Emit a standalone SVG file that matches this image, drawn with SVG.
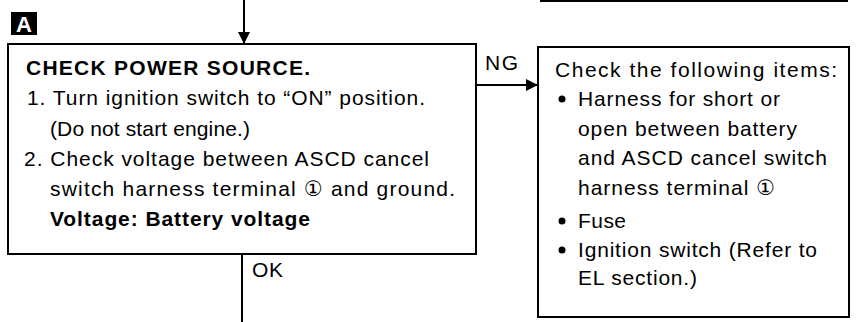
<svg xmlns="http://www.w3.org/2000/svg" width="859" height="322" viewBox="0 0 859 322">
<style>
.box{fill:#fff;stroke:#000;stroke-width:2}
.ln{fill:none;stroke:#000;stroke-width:2}
.t{font-family:"Liberation Sans",Arial,"DejaVu Sans",sans-serif;font-size:21px;fill:#000}
.b{font-weight:bold}
.bul{fill:#000}
</style>
<defs>
<marker id="ah" viewBox="0 0 12 12" refX="12" refY="6" markerWidth="12" markerHeight="12" markerUnits="userSpaceOnUse" orient="auto">
<path d="M0,0 L12,6 L0,12 Z" fill="#000"/>
</marker>
</defs>
<rect width="859" height="322" fill="#fff"/>
<g id="connectors">
<line class="ln" x1="244" y1="0" x2="244" y2="44" marker-end="url(#ah)"/>
<line class="ln" x1="476" y1="85" x2="538" y2="85" marker-end="url(#ah)"/>
<line class="ln" x1="242" y1="254" x2="242" y2="322"/>
<line class="ln" x1="540" y1="1" x2="848" y2="1"/>
<text class="t" x="485" y="70" textLength="33" lengthAdjust="spacing">NG</text>
<text class="t" x="252" y="277" textLength="31" lengthAdjust="spacing">OK</text>
</g>
<g id="label-a">
<rect x="11" y="12" width="26" height="23" fill="#000"/>
<text class="t b" x="24" y="32" text-anchor="middle" style="fill:#fff;font-size:22px">A</text>
</g>
<g id="check-power-source">
<rect class="box" x="8" y="44" width="468" height="210"/>
<text class="t b" x="26" y="75" textLength="284" lengthAdjust="spacing">CHECK POWER SOURCE.</text>
<text class="t" x="27" y="105" textLength="398" lengthAdjust="spacing">1. Turn ignition switch to “ON” position.</text>
<text class="t" x="50" y="136" textLength="200" lengthAdjust="spacing">(Do not start engine.)</text>
<text class="t" x="24" y="166" textLength="405" lengthAdjust="spacing">2. Check voltage between ASCD cancel</text>
<text class="t" x="50" y="196" textLength="405" lengthAdjust="spacing">switch harness terminal ①  and ground.</text>
<text class="t b" x="50" y="226" textLength="260" lengthAdjust="spacing">Voltage: Battery voltage</text>
</g>
<g id="check-items">
<rect class="box" x="538" y="47" width="311" height="270"/>
<text class="t" x="555" y="77" textLength="282" lengthAdjust="spacing">Check the following items:</text>
<circle class="bul" cx="562" cy="99" r="3.5"/>
<text class="t" x="578" y="106" textLength="202" lengthAdjust="spacing">Harness for short or</text>
<text class="t" x="578" y="136" textLength="219" lengthAdjust="spacing">open between battery</text>
<text class="t" x="578" y="165" textLength="249" lengthAdjust="spacing">and ASCD cancel switch</text>
<text class="t" x="578" y="195" textLength="197" lengthAdjust="spacing">harness terminal ①</text>
<circle class="bul" cx="562" cy="221" r="3.5"/>
<text class="t" x="578" y="228" textLength="48" lengthAdjust="spacing">Fuse</text>
<circle class="bul" cx="562" cy="250" r="3.5"/>
<text class="t" x="578" y="257" textLength="239" lengthAdjust="spacing">Ignition switch (Refer to</text>
<text class="t" x="578" y="285" textLength="119" lengthAdjust="spacing">EL section.)</text>
</g>
</svg>
